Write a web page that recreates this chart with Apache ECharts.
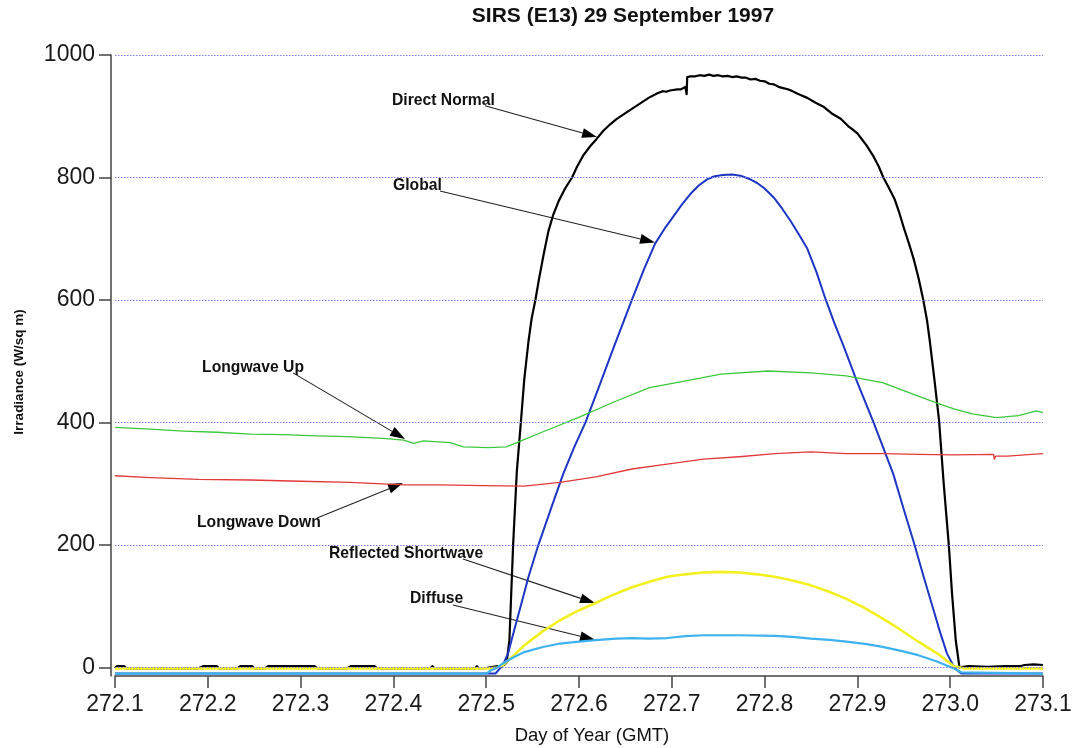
<!DOCTYPE html>
<html>
<head>
<meta charset="utf-8">
<script src="https://cdn.jsdelivr.net/npm/echarts@6/dist/echarts.min.js"></script>
<style>
html,body{margin:0;padding:0;background:#fff;}
#chart{width:1080px;height:748px;}
</style>
</head>
<body>
<div id="chart"></div>
<script>
// ---------- DATA ----------
const titleText = 'SIRS (E13) 29 September 1997';
const xAxisName = 'Day of Year (GMT)';
const yAxisName = 'Irradiance (W/sq m)';
const xTickValues = [272.1, 272.2, 272.3, 272.4, 272.5, 272.6, 272.7, 272.8, 272.9, 273.0, 273.1];
const yTickValues = [0, 200, 400, 600, 800, 1000];

const directNormal = [
  [272.100,-1.5],[272.102,2],[272.110,2],[272.112,-1.5],[272.190,-1.5],[272.195,2],[272.210,2],[272.212,-1.5],
  [272.232,-1.5],[272.235,2],[272.248,2],[272.250,-1.5],[272.262,-1.5],[272.265,2],[272.285,2],[272.290,2],
  [272.315,2],[272.318,-1.5],[272.350,-1.5],[272.354,2],[272.380,2],[272.382,-1.5],[272.440,-1.5],[272.442,2],
  [272.444,-1.5],[272.488,-1.5],[272.490,2],[272.492,-1.5],[272.500,-1],[272.512,2],[272.515,2],
  [272.519,4],[272.522,8],[272.525,44],[272.529,200],[272.533,320],[272.5375,403],[272.541,470],
  [272.5456,533],[272.549,570],[272.553,600],[272.557,635],[272.562,675],[272.567,712],[272.572,738],
  [272.578,761],[272.585,782],[272.5925,800],[272.598,818],[272.605,837],[272.612,851],[272.619,863],
  [272.626,876],[272.633,886],[272.640,895],[272.648,903],[272.657,912],[272.666,921],[272.675,930],
  [272.684,937],[272.690,941],[272.694,940],[272.698,942],[272.706,944],[272.710,944],
  [272.7146,948],[272.7160,936],[272.7166,964],[272.720,965],[272.725,965],[272.730,967],[272.735,966],
  [272.740,968],[272.745,966],[272.750,967],[272.755,965],[272.760,966],[272.765,964],[272.770,965],
  [272.775,963],[272.780,963],[272.785,960],[272.790,961],[272.795,958],[272.800,957],[272.805,953],
  [272.810,952],[272.815,948],[272.820,946],[272.825,944],[272.830,941],[272.835,937],[272.840,934],
  [272.846,930],[272.855,922],[272.864,915],[272.872,905],[272.882,896],[272.890,884],[272.895,878],
  [272.900,872],[272.905,862],[272.910,852],[272.9175,834],[272.923,818],[272.928,800],[272.934,783],
  [272.940,765],[272.945,743],[272.950,718],[272.956,690],[272.961,665],[272.966,635],[272.971,600],
  [272.975,567],[272.978,533],[272.983,470],[272.988,403],[272.993,300],[272.9985,200],[273.002,120],
  [273.006,44],[273.010,0],[273.020,2],[273.040,1],[273.060,2],[273.075,2],[273.080,4],[273.090,5],[273.100,4]
];

const globalSW = [
  [272.100,-10],[272.300,-10],[272.510,-10],[272.514,-3],[272.518,4],[272.5236,23],[272.530,60],[272.537,99],
  [272.546,150],[272.556,199],[272.570,260],[272.583,316],[272.595,360],[272.607,400],[272.622,460],
  [272.638,525],[272.657,600],[272.670,650],[272.682,692],[272.692,716],[272.702,737],[272.711,756],
  [272.720,773],[272.729,787],[272.738,797],[272.746,802],[272.755,804],[272.765,805],[272.774,803],
  [272.783,798],[272.792,791],[272.800,782],[272.810,767],[272.819,749],[272.828,729],[272.837,707],
  [272.846,684],[272.856,645],[272.866,600],[272.875,563],[272.885,525],[272.900,465],[272.9174,400],
  [272.928,358],[272.9386,316],[272.950,258],[272.9618,199],[272.971,150],[272.981,99],[272.989,58],
  [272.9965,23],[273.004,1],[273.008,-5],[273.012,-10],[273.100,-10]
];

const longwaveUp = [
  [272.100,392],[272.138,389],[272.174,386],[272.210,384],[272.246,381],[272.280,380],[272.318,378],
  [272.350,377],[272.389,374],[272.411,371],[272.4218,366],[272.4325,370],[272.461,367],[272.4757,360],
  [272.502,359],[272.5216,360],[272.533,367],[272.560,384],[272.599,408],[272.637,433],[272.676,457],
  [272.715,468],[272.753,479],[272.8035,484],[272.850,481],[272.888,476],[272.927,465],[272.9656,443],
  [272.9888,430],[273.004,422],[273.0236,414],[273.050,408],[273.0737,411],[273.093,419],[273.100,416]
];

const longwaveDown = [
  [272.100,313],[272.138,310],[272.190,307],[272.246,306],[272.300,304],[272.3535,302],[272.411,298],
  [272.450,298],[272.497,297],[272.541,296],[272.5795,302],[272.618,311],[272.657,324],[272.695,332],
  [272.734,340],[272.7726,344],[272.811,349],[272.850,352],[272.888,349],[272.927,349],[272.9656,348],
  [273.004,347],[273.0467,348],[273.0475,340],[273.049,345],[273.062,345],[273.080,347],[273.100,349]
];

const reflectedSW = [
  [272.100,-1.5],[272.505,-1.5],[272.512,0],[272.518,4],[272.530,20],[272.541,36],[272.560,58],
  [272.5795,77],[272.598,92],[272.616,104],[272.636,118],[272.657,131],[272.676,140],[272.695,148],
  [272.714,152],[272.734,155],[272.753,156],[272.7726,155],[272.792,152],[272.811,148],[272.830,142],
  [272.850,134],[272.869,124],[272.888,112],[272.908,97],[272.927,80],[272.946,62],[272.9656,42],
  [272.9888,20],[273.004,2],[273.016,-1.6],[273.100,-1.5]
];

const diffuse = [
  [272.100,-10],[272.500,-10],[272.505,-5],[272.512,0],[272.518,6.5],[272.530,17],[272.541,25],
  [272.560,33],[272.5795,39],[272.600,42],[272.618,44.5],[272.640,47],[272.657,48],[272.675,47],
  [272.695,48],[272.715,51],[272.734,52.5],[272.7726,52.5],[272.811,51.5],[272.830,50],[272.850,47],
  [272.870,45],[272.888,42],[272.910,38],[272.927,33.5],[272.947,27],[272.9656,20],[272.985,10],
  [273.004,-1.6],[273.012,-8],[273.100,-10]
];

// annotation labels (text anchor, arrow start, arrow tip) in data coordinates
const annotations = [
  {text:'Direct Normal',       at:[272.3985,925], from:[272.4987,917], to:[272.6194,866]},
  {text:'Global',              at:[272.3996,786], from:[272.4502,778], to:[272.6819,694]},
  {text:'Longwave Up',         at:[272.1938,489], from:[272.2918,481], to:[272.4125,373]},
  {text:'Longwave Down',       at:[272.1884,236], from:[272.3177,244], to:[272.4103,301]},
  {text:'Reflected Shortwave', at:[272.3306,185], from:[272.4750,177], to:[272.6172,105]},
  {text:'Diffuse',             at:[272.4179,113], from:[272.4642,102], to:[272.6172,45]}
];

// ---------- CHART ----------
const chart = echarts.init(document.getElementById('chart'), null, {renderer:'canvas'});
const FONT = '"Liberation Sans", Arial, sans-serif';

function lineSeries(name, data, color, width) {
  return {
    name, type:'line', data, showSymbol:false, symbol:'none', animation:false, smooth:false,
    lineStyle:{color, width, join:'round'}, itemStyle:{color}, silent:true, clip:true
  };
}

const option = {
  backgroundColor:'#ffffff',
  animation:false,
  grid:{left:115, right:37, top:55, bottom:72, containLabel:false},
  xAxis:{
    type:'value', min:272.1, max:273.1,
    axisLine:{show:true, onZero:false, lineStyle:{color:'#444', width:1.5}},
    axisTick:{show:true, length:12, inside:false, customValues:xTickValues, lineStyle:{color:'#444', width:1.5}},
    axisLabel:{customValues:xTickValues, margin:17, fontFamily:FONT, fontSize:23, color:'#1a1a1a',
      formatter:v=>Number(v).toFixed(1)},
    splitLine:{show:false}
  },
  yAxis:{
    type:'value', min:-14, max:1000, offset:4,
    axisLine:{show:true, onZero:false, lineStyle:{color:'#444', width:1.5}},
    axisTick:{show:true, length:12, customValues:yTickValues, lineStyle:{color:'#444', width:1.5}},
    axisLabel:{customValues:yTickValues, margin:16, fontFamily:FONT, fontSize:23, color:'#1a1a1a',
      formatter:v=>String(Math.round(v))},
    splitLine:{show:false}
  },
  series:[
    Object.assign(lineSeries('gridlines', [], '#000', 0), {
      markLine:{symbol:'none', silent:true, animation:false, label:{show:false},
        lineStyle:{type:[1.5,1.5], color:'#7a7aff', width:1, opacity:1},
        emphasis:{disabled:true},
        data: yTickValues.map(v=>({yAxis:v}))}
    }),
    lineSeries('Direct Normal', directNormal, '#000000', 2.2),
    lineSeries('Global', globalSW, '#1e36c4', 2),
    lineSeries('Longwave Up', longwaveUp, '#3cc83c', 1.3),
    lineSeries('Longwave Down', longwaveDown, '#e23a3a', 1.3),
    lineSeries('Reflected Shortwave', reflectedSW, '#f2f020', 2.6),
    lineSeries('Diffuse', diffuse, '#3db2ee', 2.2)
  ]
};
chart.setOption(option);

// ---------- ANNOTATIONS / TEXT ----------
const graphics = [];
graphics.push({type:'text', x:623, y:6, style:{text:titleText, textAlign:'center',
  font:'bold 21px '+FONT, fill:'#111'}});
graphics.push({type:'text', x:592, y:726, style:{text:xAxisName, textAlign:'center', font:'18.5px '+FONT, fill:'#111'}});
graphics.push({type:'text', x:19, y:372, rotation:Math.PI/2, style:{text:yAxisName, textAlign:'center',
  textVerticalAlign:'middle', font:'bold 13.5px '+FONT, fill:'#111'}});

annotations.forEach(a=>{
  const t = chart.convertToPixel({gridIndex:0}, a.at);
  const p0 = chart.convertToPixel({gridIndex:0}, a.from);
  const p1 = chart.convertToPixel({gridIndex:0}, a.to);
  graphics.push({type:'text', x:t[0], y:t[1], style:{text:a.text, textVerticalAlign:'middle',
    font:'bold 15.7px '+FONT, fill:'#111'}});
  const dx = p1[0]-p0[0], dy = p1[1]-p0[1];
  const L = Math.sqrt(dx*dx+dy*dy), ux = dx/L, uy = dy/L;
  const hl = 15, hw = 5;
  const bx = p1[0]-ux*hl, by = p1[1]-uy*hl;
  graphics.push({type:'line', shape:{x1:p0[0], y1:p0[1], x2:bx, y2:by}, style:{stroke:'#222', lineWidth:1.1}});
  graphics.push({type:'polygon', shape:{points:[[p1[0],p1[1]],[bx-uy*hw, by+ux*hw],[bx+uy*hw, by-ux*hw]]},
    style:{fill:'#000'}});
});
chart.setOption({graphic:graphics});
</script>
</body>
</html>
